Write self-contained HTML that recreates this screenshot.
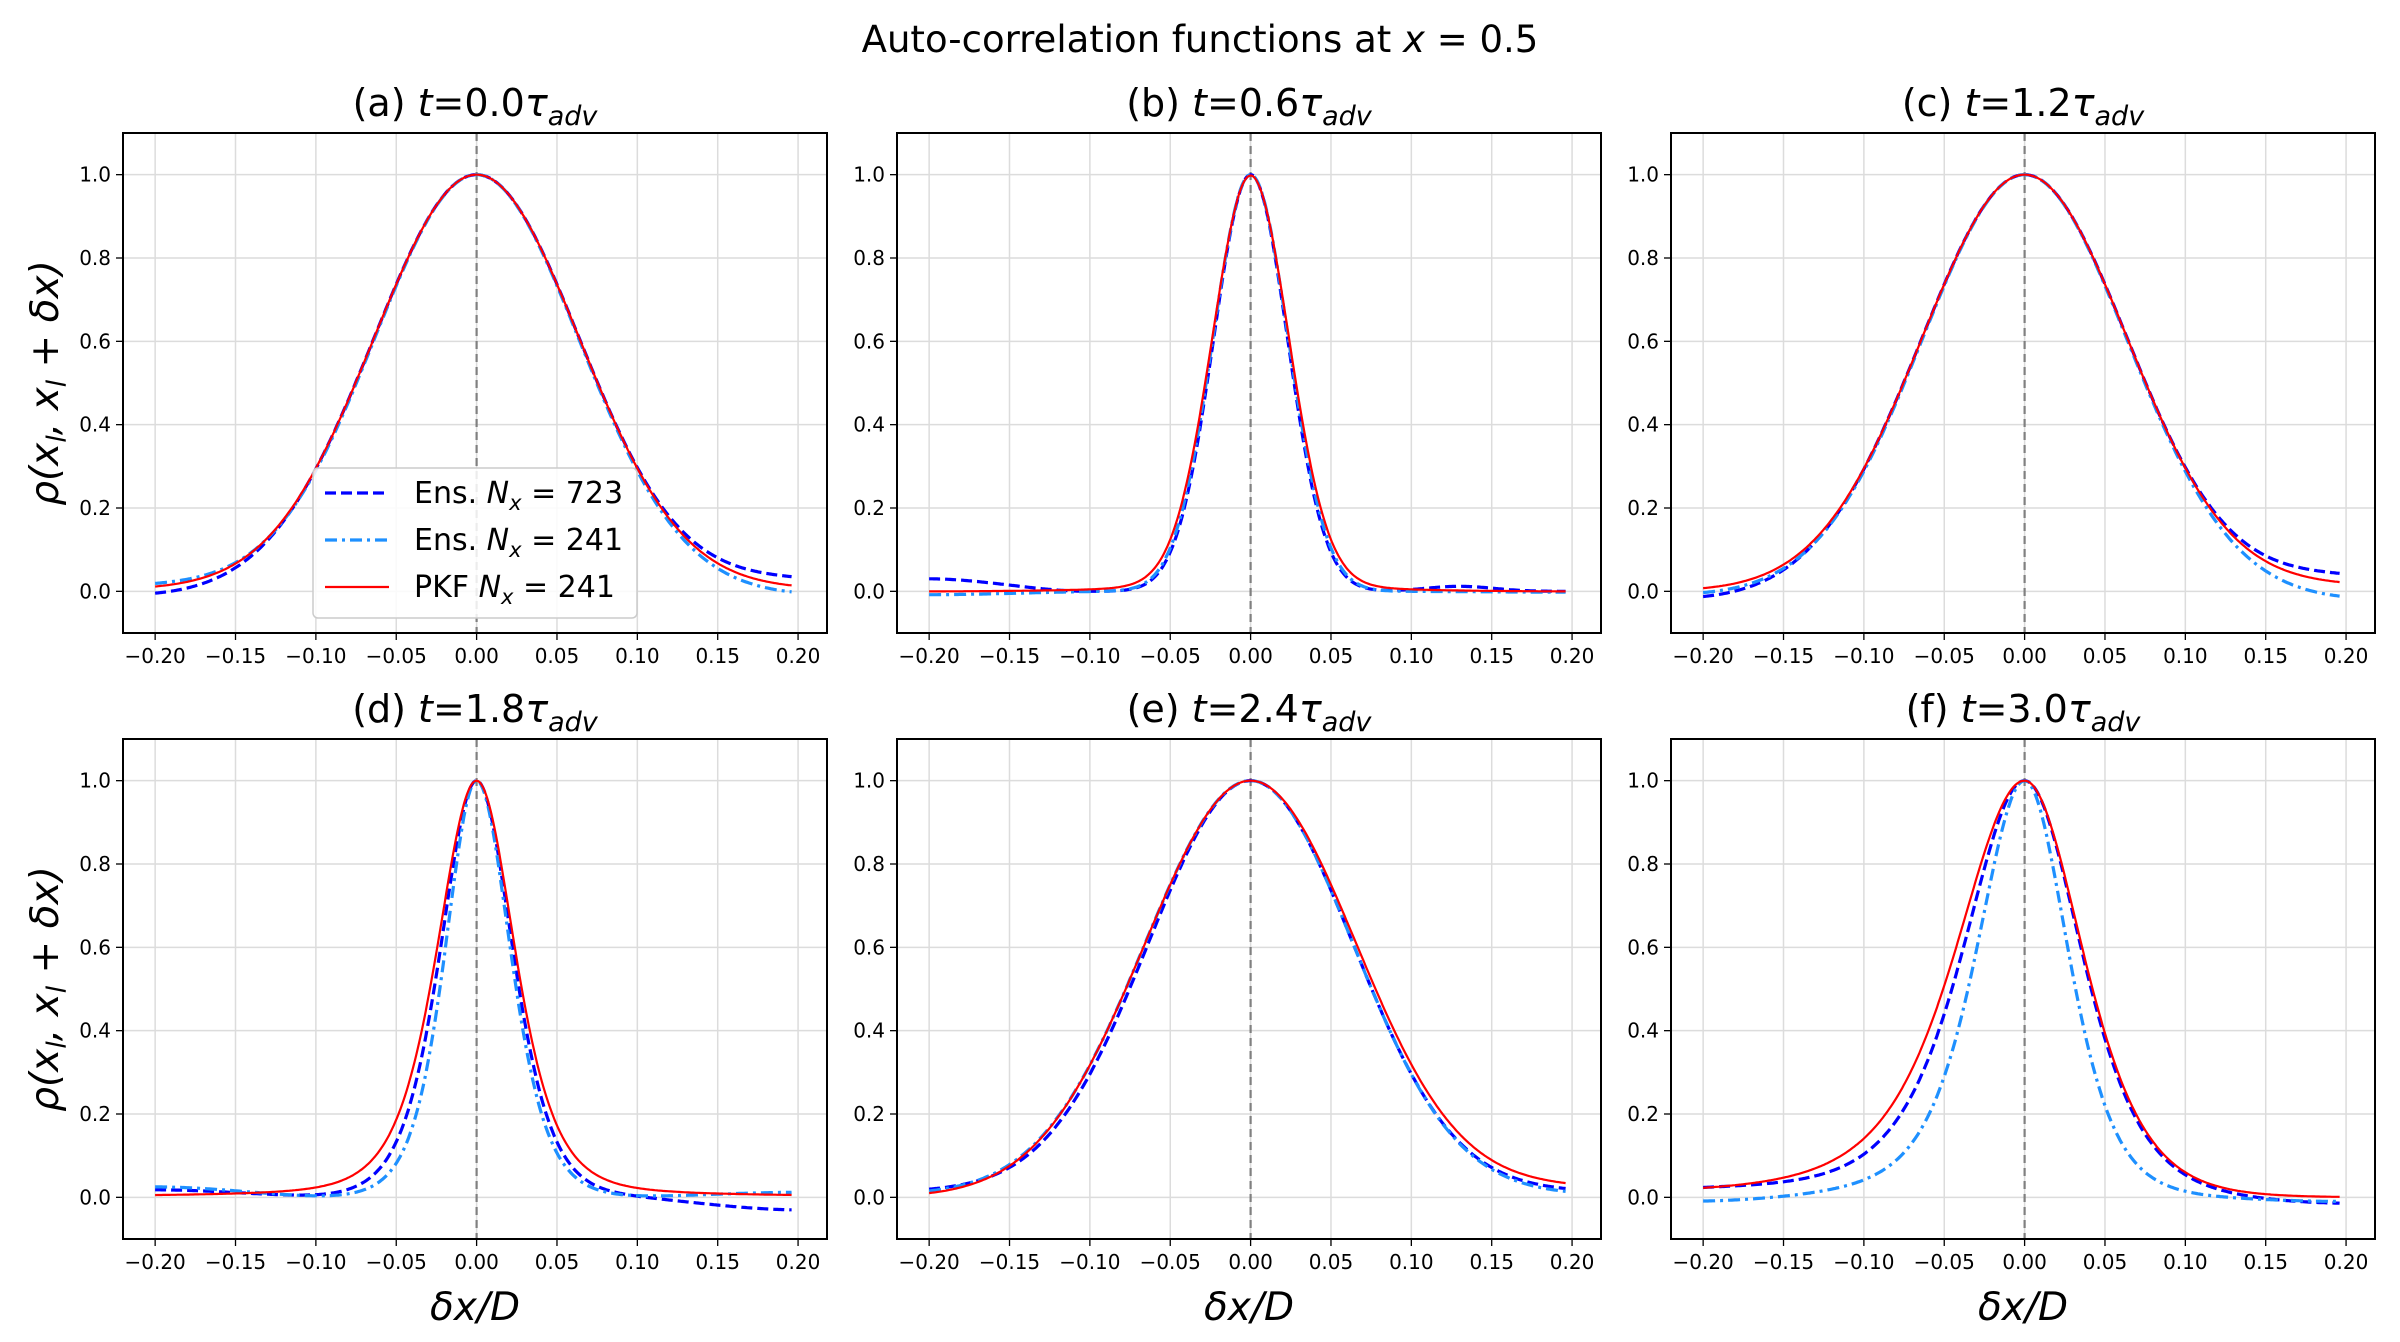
<!DOCTYPE html>
<html><head><meta charset="utf-8"><style>
html,body{margin:0;padding:0;background:#fff;}
svg{display:block;font-family:"DejaVu Sans","Liberation Sans",sans-serif;}
</style></head><body>
<svg id="s" width="2400" height="1342" viewBox="0 0 2400 1342" xmlns="http://www.w3.org/2000/svg">
<rect width="2400" height="1342" fill="#fff"/>
<text x="1200" y="52" font-size="37" text-anchor="middle">Auto-correlation functions at <tspan font-style="italic">x</tspan> = 0.5</text>
</svg>
<script>
const S=document.getElementById('s');const NS='http://www.w3.org/2000/svg';
function el(t,a,txt){const e=document.createElementNS(NS,t);for(const k in a)e.setAttribute(k,a[k]);if(txt!==undefined)e.textContent=txt;S.appendChild(e);return e;}
const gau=(x,L)=>Math.exp(-x*x/(2*L*L));
const sech2=(x,L)=>{const c=Math.cosh(x/L);return 1/(c*c);};
const lor=(x,L)=>1/(1+(x/L)*(x/L));
const ramp=(x,a,b)=>{let t=(x-a)/(b-a);t=Math.max(0,Math.min(1,t));return t*t*(3-2*t);};
const tail=(x,l,r)=>(x<0?l*ramp(-x,0.08,0.2):r*ramp(x,0.08,0.2));
const as=(f,x,Ll,Lr)=>f(x,x<0?Ll:Lr);
const panels=[
 {t:"(a)",v:"0.0",x:123,y:133,s:[
  x=>gau(x,0.064)+tail(x,-0.012,0.026),
  x=>gau(x,0.0635)+tail(x,0.012,-0.01),
  x=>gau(x,0.064)+tail(x,0.004,0.005)]},
 {t:"(b)",v:"0.6",x:897,y:133,s:[
  x=>gau(x,0.023)+(x<0?0.03*ramp(-x,0.1,0.2):0.012*Math.exp(-Math.pow((x-0.13)/0.03,2))),
  x=>gau(x,0.0235)+tail(x,-0.008,-0.002),
  x=>0.92*gau(x,0.024)+0.08*lor(x,0.03)-0.002]},
 {t:"(c)",v:"1.2",x:1671,y:133,s:[
  x=>gau(x,0.064)+tail(x,-0.02,0.034),
  x=>gau(x,0.0635)+tail(x,-0.01,-0.02),
  x=>gau(x,0.064)+tail(x,0,0.013)]},
 {t:"(d)",v:"1.8",x:123,y:739,s:[
  x=>as(sech2,x,0.03,0.03)+tail(x,0.018,-0.03),
  x=>as(sech2,x,0.026,0.028)+tail(x,0.025,0.012),
  x=>0.95*as(sech2,x,0.032,0.031)+0.05*lor(x,0.07)]},
 {t:"(e)",v:"2.4",x:897,y:739,s:[
  x=>as(gau,x,0.064,0.064)+tail(x,0.012,0.012),
  x=>as(gau,x,0.066,0.064)+tail(x,0.005,0.005),
  x=>gau(x,0.066)+tail(x,0,0.022)]},
 {t:"(f)",v:"3.0",x:1671,y:739,s:[
  x=>x<0?0.75*sech2(x,0.05)+0.25*lor(x,0.05)+tail(x,0.008,0):sech2(x,0.047)+tail(x,0,-0.015),
  x=>x<0?0.8*sech2(x,0.04)+0.2*lor(x,0.035)+tail(x,-0.015,0):sech2(x,0.036)+tail(x,0,-0.01),
  x=>x<0?0.75*sech2(x,0.055)+0.25*lor(x,0.06):sech2(x,0.048)]}
];
const styles=[{c:"#0000ff",w:3.2,d:"11,5"},{c:"#1e90ff",w:3.2,d:"12,5,3,5"},{c:"#ff0000",w:2.2,d:""}];
const W=704,H=500,xl=-0.22,xr=0.218,yb=-0.1,yt=1.1;
panels.forEach((p,i)=>{
 const X=v=>p.x+(v-xl)/(xr-xl)*W, Y=v=>p.y+(yt-v)/(yt-yb)*H;
 const cid='c'+i;
 const cp=el('clipPath',{id:cid});const r=document.createElementNS(NS,'rect');r.setAttribute('x',p.x);r.setAttribute('y',p.y);r.setAttribute('width',W);r.setAttribute('height',H);cp.appendChild(r);
 for(let k=-4;k<=4;k++){const v=k*0.05,px=X(v);
  el('line',{x1:px,x2:px,y1:p.y,y2:p.y+H,stroke:"#dcdcdc","stroke-width":1.5});
  el('line',{x1:px,x2:px,y1:p.y+H,y2:p.y+H+7,stroke:"#000","stroke-width":1.3});
  el('text',{x:px,y:p.y+H+30,"font-size":20,"text-anchor":"middle"},(v<0?"−":"")+Math.abs(v).toFixed(2));}
 for(let k=0;k<=5;k++){const v=k*0.2,py=Y(v);
  el('line',{x1:p.x,x2:p.x+W,y1:py,y2:py,stroke:"#dcdcdc","stroke-width":1.5});
  el('line',{x1:p.x-7,x2:p.x,y1:py,y2:py,stroke:"#000","stroke-width":1.3});
  el('text',{x:p.x-12,y:py+7,"font-size":20,"text-anchor":"end"},v.toFixed(1));}
 el('line',{x1:X(0),x2:X(0),y1:p.y,y2:p.y+H,stroke:"#808080","stroke-width":2.2,"stroke-dasharray":"8,5"});
 p.s.forEach((f,j)=>{let d="";for(let n=0;n<=400;n++){const x=-0.2+n*0.396/400;d+=(n?"L":"M")+X(x).toFixed(1)+","+Y(f(x)).toFixed(1);}
  const st=styles[j];const a={d:d,fill:"none",stroke:st.c,"stroke-width":st.w,"clip-path":"url(#"+cid+")"};if(st.d)a["stroke-dasharray"]=st.d;el('path',a);});
 el('rect',{x:p.x,y:p.y,width:W,height:H,fill:"none",stroke:"#000","stroke-width":2});
 const tt=el('text',{x:p.x+W/2,y:p.y-17,"font-size":38,"text-anchor":"middle"});
 tt.innerHTML=p.t+' <tspan font-style="italic">t</tspan>='+p.v+'<tspan font-style="italic">τ</tspan><tspan font-style="italic" font-size="27" dy="9">adv</tspan>';
 if(i%3==0){const yl=el('text',{transform:"translate(58,"+(p.y+H/2)+") rotate(-90)","font-size":39,"text-anchor":"middle","font-style":"italic"});
  yl.innerHTML='ρ(x<tspan font-size="27" dy="8">l</tspan><tspan dy="-8">, x</tspan><tspan font-size="27" dy="8">l</tspan><tspan dy="-8" font-style="normal"> + </tspan>δx)';}
 if(i>=3){el('text',{x:p.x+W/2,y:p.y+H+81,"font-size":39,"text-anchor":"middle","font-style":"italic"},'δx/D');}
});
el('rect',{x:313,y:468,width:324,height:150,rx:5,fill:"#fff","fill-opacity":0.85,stroke:"#cccccc","stroke-width":1.5});
const labs=[["Ens. ","723"],["Ens. ","241"],["PKF ","241"]];
labs.forEach((l,j)=>{const y=[493,540,587][j];const st=styles[j];
 const a={x1:325,x2:389,y1:y,y2:y,stroke:st.c,"stroke-width":st.w};if(st.d)a["stroke-dasharray"]=st.d;el('line',a);
 const t=el('text',{x:414,y:y+10,"font-size":30});
 t.innerHTML=l[0]+'<tspan font-style="italic">N</tspan><tspan font-style="italic" font-size="21" dy="7">x</tspan><tspan dy="-7"> = '+l[1]+'</tspan>';});
</script>
</body></html>
